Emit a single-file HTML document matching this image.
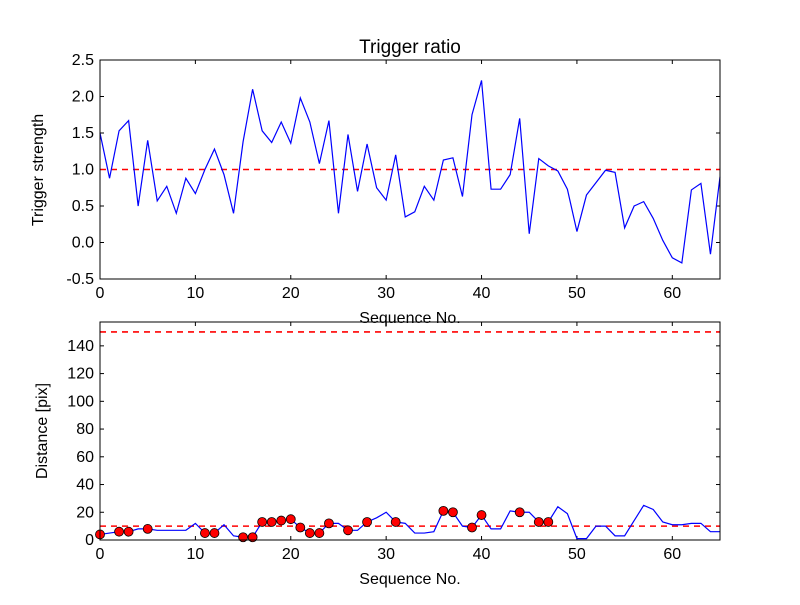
<!DOCTYPE html>
<html><head><meta charset="utf-8"><style>
body{margin:0;background:#fff;}
svg text{font-family:"Liberation Sans",sans-serif;}
</style></head><body>
<svg id="c" width="800" height="600" xmlns="http://www.w3.org/2000/svg"></svg>
<script>
const topValues=[1.5,0.88,1.53,1.67,0.5,1.4,0.57,0.77,0.4,0.88,0.67,1.0,1.28,0.93,0.4,1.38,2.1,1.53,1.37,1.65,1.36,1.98,1.65,1.08,1.67,0.4,1.48,0.7,1.35,0.75,0.58,1.2,0.35,0.42,0.77,0.58,1.13,1.16,0.63,1.75,2.22,0.73,0.73,0.93,1.7,0.12,1.15,1.05,0.98,0.73,0.15,0.65,0.82,0.99,0.96,0.2,0.5,0.56,0.33,0.03,-0.21,-0.28,0.72,0.81,-0.16,0.9];
const distValues=[4,5,6,6,8,8,7,7,7,7,12,5,5,11,3,2,2,13,13,14,15,9,5,5,12,12,7,7,13,16,20,13,12,5,5,6,21,20,10,9,18,8,8,21,20,20,13,13,24,19,1,1,10,10,3,3,14,25,22,13,11,11,12,12,6,6];
const markerIdx=[0,2,3,5,11,12,15,16,17,18,19,20,21,22,23,24,26,28,31,36,37,39,40,44,46,47];
const topYTicks=[-0.5,0.0,0.5,1.0,1.5,2.0,2.5];
const botYTicks=[0,20,40,60,80,100,120,140];
const xTicks=[0,10,20,30,40,50,60];
const topThreshold=1.0, lowThreshold=10, highThreshold=150;
const svg=document.getElementById('c');
const NS='http://www.w3.org/2000/svg';
function mk(t,a,p){const e=document.createElementNS(NS,t);for(const k in a)e.setAttribute(k,a[k]);(p||svg).appendChild(e);return e;}
const L=100,R=720;
const xs=v=>L+(v-0)/65*(R-L);
const ys1=v=>279-(v+0.5)/3*219;
const ys2=v=>540-v/157.2*218;
function axes(top,bot,yTicks,ys,fmt,name){
  const g=mk('g',{});
  
  
  xTicks.forEach(t=>{const x=xs(t);
    mk('line',{x1:x,x2:x,y1:bot,y2:bot-4,stroke:'#000'},g);
    mk('line',{x1:x,x2:x,y1:top,y2:top+4,stroke:'#000'},g);
    const tx=mk('text',{x:x,y:bot+19,'text-anchor':'middle','font-size':16},g);tx.textContent=t;
    });
  yTicks.forEach(t=>{const y=ys(t);
    mk('line',{x1:L,x2:L+4,y1:y,y2:y,stroke:'#000'},g);
    mk('line',{x1:R,x2:R-4,y1:y,y2:y,stroke:'#000'},g);
    const tx=mk('text',{x:L-6,y:y+5,'text-anchor':'end','font-size':16},g);tx.textContent=fmt(t);
    });
  return g;
}
// top panel
axes(60,279,topYTicks,ys1,v=>v.toFixed(1),'top-axes');
let l=mk('line',{x1:L,x2:R,y1:ys1(topThreshold),y2:ys1(topThreshold),stroke:'#ff0000','stroke-width':1.6,'stroke-dasharray':'6,5'});

let p=mk('polyline',{points:topValues.map((v,i)=>xs(i)+','+ys1(v)).join(' '),fill:'none',stroke:'blue','stroke-width':1.2});

let fr=mk('rect',{x:L,y:60,width:R-L,height:219,fill:'none',stroke:'#000'});

let t=mk('text',{x:410,y:53,'text-anchor':'middle','font-size':19});t.textContent='Trigger ratio';

t=mk('text',{x:410,y:323,'text-anchor':'middle','font-size':16});t.textContent='Sequence No.';

t=mk('text',{x:43,y:170,'text-anchor':'middle','font-size':16,transform:'rotate(-90 43 170)'});t.textContent='Trigger strength';

// bottom panel
axes(322,540,botYTicks,ys2,v=>v,'bottom-axes');
l=mk('line',{x1:L,x2:R,y1:ys2(lowThreshold),y2:ys2(lowThreshold),stroke:'#ff0000','stroke-width':1.6,'stroke-dasharray':'6,5'});

l=mk('line',{x1:L,x2:R,y1:ys2(highThreshold),y2:ys2(highThreshold),stroke:'#ff0000','stroke-width':1.6,'stroke-dasharray':'6,5'});

p=mk('polyline',{points:distValues.map((v,i)=>xs(i)+','+ys2(v)).join(' '),fill:'none',stroke:'blue','stroke-width':1.2});

markerIdx.forEach(i=>{const c=mk('circle',{cx:xs(i),cy:ys2(distValues[i]),r:4.5,fill:'red',stroke:'#000','stroke-width':0.8});
  
  });
fr=mk('rect',{x:L,y:322,width:R-L,height:218,fill:'none',stroke:'#000'});

t=mk('text',{x:410,y:584,'text-anchor':'middle','font-size':16});t.textContent='Sequence No.';

t=mk('text',{x:47,y:431,'text-anchor':'middle','font-size':16,transform:'rotate(-90 47 431)'});t.textContent='Distance [pix]';

</script>
</body></html>
